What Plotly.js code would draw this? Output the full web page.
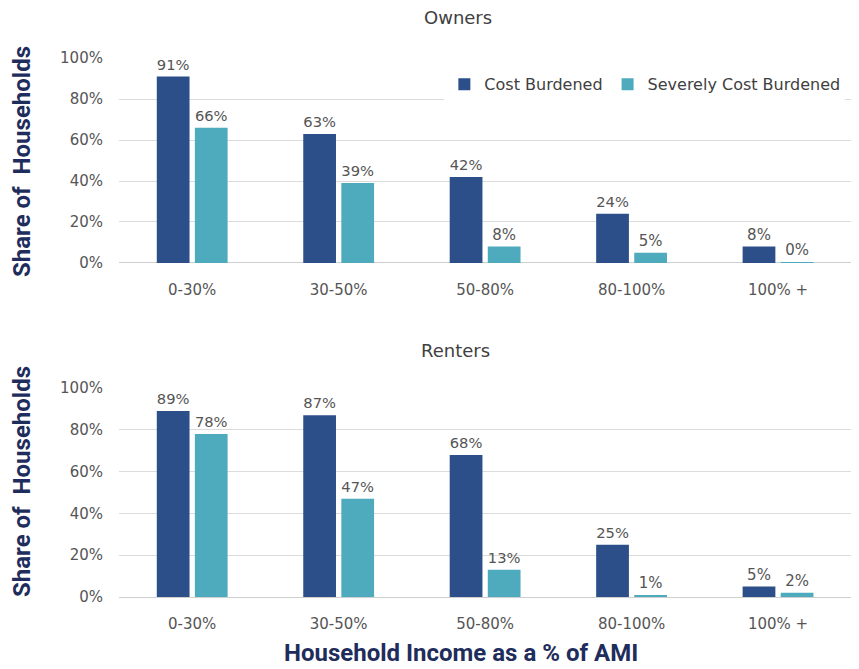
<!DOCTYPE html>
<html>
<head>
<meta charset="utf-8">
<script src="https://cdn.plot.ly/plotly-3.0.1.min.js"></script>
<style>
  body { margin: 0; background: #fff; }
  #plot1 { width: 859px; height: 669px; }
</style>
</head>
<body>
<div id="plot1"></div>
<script>
const incomeBands = ['0-30%', '30-50%', '50-80%', '80-100%', '100% +'];

// Owners
const owners_cost = [91, 63, 42, 24, 8];
const owners_severe = [66, 39, 8, 5, 0.4];

// Renters
const renters_cost = [89, 87, 68, 25, 5];
const renters_severe = [78, 47, 13, 1, 2];

const navy = 'rgb(44, 79, 138)';
const teal = 'rgb(78, 171, 189)';
const labelFont = { family: '"DejaVu Sans", sans-serif', size: 15, color: '#555555' };

function barTrace(y, name, color, axis, showlegend) {
    return {
        x: incomeBands,
        y: y,
        type: 'bar',
        name: name,
        xaxis: 'x' + axis,
        yaxis: 'y' + axis,
        marker: { color: color },
        texttemplate: '%{y:.0f}%',
        textposition: 'outside',
        cliponaxis: false,
        textfont: labelFont,
        showlegend: showlegend,
        legendgroup: name,
        hoverinfo: 'skip',
    };
}

const data = [
    barTrace(owners_cost, 'Cost Burdened', navy, '', true),
    barTrace(owners_severe, 'Severely Cost Burdened', teal, '', true),
    barTrace(renters_cost, 'Cost Burdened', navy, '2', false),
    barTrace(renters_severe, 'Severely Cost Burdened', teal, '2', false),
];

const yaxisStyle = {
    range: [0, 100],
    dtick: 20,
    ticksuffix: '%',
    showgrid: true,
    gridcolor: '#dcdcdc',
    zeroline: true,
    zerolinecolor: '#cfcfcf',
    showline: false,
    ticks: '',
    ticklabelstandoff: 15,
    tickfont: labelFont,
    fixedrange: true,
};

const xaxisStyle = {
    showline: false,
    ticks: '',
    ticklabelstandoff: 16,
    tickfont: labelFont,
    domain: [0.1385, 0.991],
    fixedrange: true,
};

const navyText = { family: 'Roboto, sans-serif', size: 24, color: '#1f2d5c', weight: 'bold' };
const panelTitle = { family: '"DejaVu Sans", sans-serif', size: 18, color: '#404040' };

const layout = {
    width: 859,
    height: 669,
    margin: { l: 0, r: 0, t: 0, b: 0 },
    paper_bgcolor: '#ffffff',
    plot_bgcolor: '#ffffff',
    font: { family: '"DejaVu Sans", sans-serif', color: '#555555' },
    barmode: 'group',
    bargap: 0.48,
    bargroupgap: 0.14,
    xaxis: Object.assign({}, xaxisStyle, { anchor: 'y' }),
    yaxis: Object.assign({}, yaxisStyle, { domain: [0.607, 0.913], anchor: 'x' }),
    xaxis2: Object.assign({}, xaxisStyle, { anchor: 'y2' }),
    yaxis2: Object.assign({}, yaxisStyle, { domain: [0.1076, 0.42], anchor: 'x2' }),
    showlegend: true,
    legend: {
        orientation: 'h',
        x: 0.5173,
        xanchor: 'left',
        y: 0.874,
        yanchor: 'middle',
        bgcolor: '#ffffff',
        font: { family: '"DejaVu Sans", sans-serif', size: 16, color: '#404040' },
        itemwidth: 30,
    },
    annotations: [
        {
            text: 'Owners', xref: 'paper', yref: 'paper',
            x: 458 / 859, y: 1 - 18 / 669, xanchor: 'center', yanchor: 'middle',
            showarrow: false, font: panelTitle,
        },
        {
            text: 'Renters', xref: 'paper', yref: 'paper',
            x: 455 / 859, y: 1 - 350 / 669, xanchor: 'center', yanchor: 'middle',
            showarrow: false, font: panelTitle,
        },
        {
            text: 'Share of\u00a0 Households', xref: 'paper', yref: 'paper',
            x: 22 / 859, y: 1 - 162 / 669, xanchor: 'center', yanchor: 'middle',
            textangle: -90, showarrow: false, font: navyText,
        },
        {
            text: 'Share of\u00a0 Households', xref: 'paper', yref: 'paper',
            x: 22 / 859, y: 1 - 482 / 669, xanchor: 'center', yanchor: 'middle',
            textangle: -90, showarrow: false, font: navyText,
        },
        {
            text: 'Household Income as a % of AMI', xref: 'paper', yref: 'paper',
            x: 461 / 859, y: 0, xanchor: 'center', yanchor: 'bottom',
            showarrow: false, font: navyText,
        },
    ],
};

Plotly.newPlot('plot1', data, layout, { displayModeBar: false, staticPlot: true });
</script>
</body>
</html>
